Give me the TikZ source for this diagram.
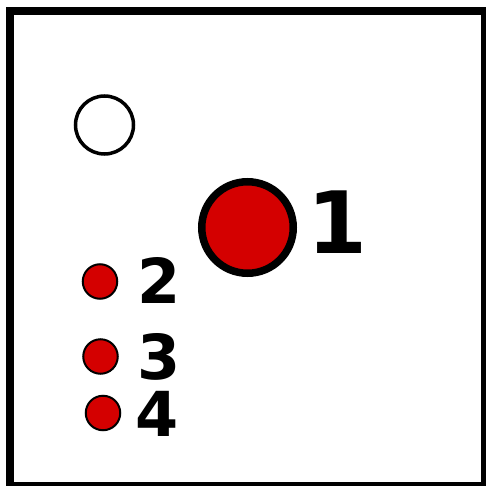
\documentclass[tikz,border=0pt]{standalone}
\usepackage{fontspec}
\setmainfont{DejaVu Sans}
\definecolor{dotred}{HTML}{D40000}
\begin{document}
\begin{tikzpicture}[x=1pt,y=-1pt,
  dot/.style={circle,draw=black,fill=dotred,inner sep=0pt},
  smalldot/.style={dot,line width=2pt,minimum size=34.5pt},
  numlabel/.style={inner sep=0pt,font=\bfseries\fontsize{62}{62}\selectfont}]
\useasboundingbox (0,0) rectangle (486,486);
\begin{scope}
\clip (0,0) rectangle (486,486);
\draw[line width=7.5pt] (10,11) rectangle (485,486);
\end{scope}
\node[circle,draw=black,line width=3.5pt,minimum size=58pt,inner sep=0pt] (open) at (104.5,125) {};
\node[dot,line width=7.5pt,minimum size=91.5pt] (big) at (247.5,227.5) {};
\node[inner sep=0pt,font=\bfseries\fontsize{86}{86}\selectfont] (l1) at (337.5,222) {1};
\node[smalldot] (d2) at (100,281.5) {};
\node[numlabel] (l2) at (159,280.5) {2};
\node[smalldot] (d3) at (100.5,356.5) {};
\node[numlabel] (l3) at (159.5,357) {3};
\node[smalldot] (d4) at (103,413) {};
\node[numlabel] (l4) at (157,413.5) {4};
\end{tikzpicture}
\end{document}
